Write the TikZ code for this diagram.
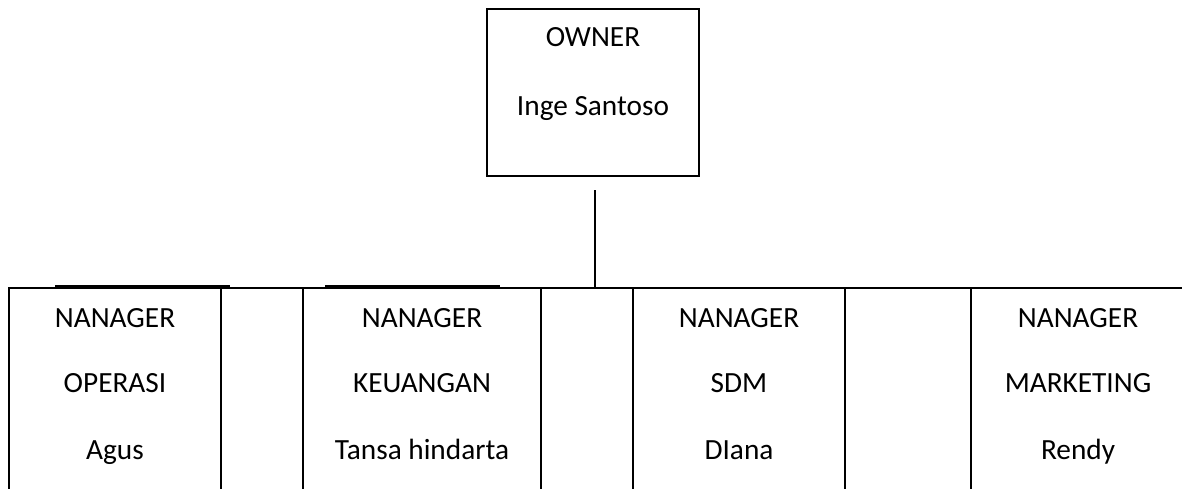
\documentclass[tikz,border=0pt]{standalone}
\usepackage{fontspec}
\setmainfont{Carlito}
\usetikzlibrary{positioning}

\begin{document}
\begin{tikzpicture}[x=1pt,y=-1pt,line width=2pt,
    txt/.style={font=\fontsize{29.3}{35}\selectfont,anchor=base,inner sep=0pt}]
\useasboundingbox (0,0) rectangle (1182,488);

% Owner
\node[draw,minimum width=212pt,minimum height=167pt,inner sep=0pt] (owner) at (593,92.5) {};
\node[txt] (ownerrole) at (593,46) {OWNER};
\node[txt] (ownername) at (593,115.5) {Inge Santoso};

% Stem down to the managers
\coordinate (stem) at (595,190);
\coordinate (bar) at (595,288);
\draw (stem) -- (bar);

% Managers row (cells run past the bottom edge)
\draw (9,288) -- (1200,288);
\foreach \l/\r in {9/221,221/303,303/541,541/633,633/845,845/971,971/1185}
{
    \draw (\l,288) rectangle (\r,520);
}
\draw[line width=4pt] (55,286.5) -- (230,286.5);
\draw[line width=4pt] (325,286.5) -- (500,286.5);

\foreach \name/\x/\role/\who in {opr/115/OPERASI/Agus,keu/422/KEUANGAN/Tansa hindarta,
    sdm/739/SDM/DIana,mkt/1078/MARKETING/Rendy}
{
    \node[txt] (\name-title) at (\x,327.5) {NANAGER};
    \node[txt] (\name-dept) at (\x,392.5) {\role};
    \node[txt] (\name-who) at (\x,459.5) {\who};
}
\end{tikzpicture}
\end{document}
